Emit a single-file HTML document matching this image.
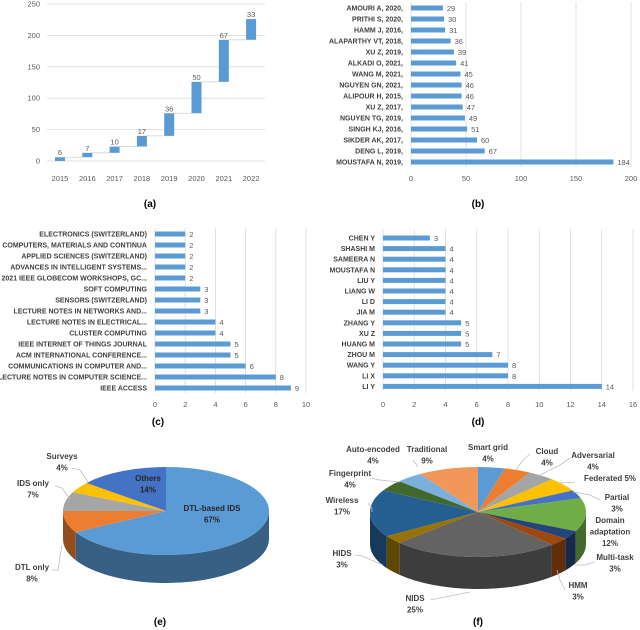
<!DOCTYPE html>
<html><head><meta charset="utf-8">
<style>
html,body{margin:0;padding:0;background:#fff;}
svg{display:block;font-family:"Liberation Sans",sans-serif;}
.tk{font-size:7.5px;fill:#595959;}
.lb{font-size:7px;fill:#404040;font-weight:bold;}
.vl{font-size:7.5px;fill:#595959;}
.pl{font-size:8px;fill:#404040;font-weight:bold;}
.cap{font-size:10px;fill:#000;font-weight:bold;}
</style></head>
<body>
<svg id="fig" width="640" height="630" viewBox="0 0 640 630" xmlns="http://www.w3.org/2000/svg">
<text class="cap" x="150" y="207" text-anchor="middle">(a)</text>
<text class="cap" x="478" y="207" text-anchor="middle">(b)</text>
<text class="cap" x="158" y="425" text-anchor="middle">(c)</text>
<text class="cap" x="478" y="425" text-anchor="middle">(d)</text>
<text class="cap" x="160" y="625" text-anchor="middle">(e)</text>
<text class="cap" x="478" y="625" text-anchor="middle">(f)</text>
</svg>
<script>
const yearCats=["2015","2016","2017","2018","2019","2020","2021","2022"];
const yearVals=[6,7,10,17,36,50,67,33];
const yearTicks=[0,50,100,150,200,250];

const citeCats=["AMOURI A, 2020,","PRITHI S, 2020,","HAMM J, 2016,","ALAPARTHY VT, 2018,","XU Z, 2019,","ALKADI O, 2021,","WANG M, 2021,","NGUYEN GN, 2021,","ALIPOUR H, 2015,","XU Z, 2017,","NGUYEN TG, 2019,","SINGH KJ, 2016,","SIKDER AK, 2017,","DENG L, 2019,","MOUSTAFA N, 2019,"];
const citeVals=[29,30,31,36,39,41,45,46,46,47,49,51,60,67,184];
const citeTicks=[0,50,100,150,200];

const srcCats=["ELECTRONICS (SWITZERLAND)","COMPUTERS, MATERIALS AND CONTINUA","APPLIED SCIENCES (SWITZERLAND)","ADVANCES IN INTELLIGENT SYSTEMS...","2021 IEEE GLOBECOM WORKSHOPS, GC...","SOFT COMPUTING","SENSORS (SWITZERLAND)","LECTURE NOTES IN NETWORKS AND...","LECTURE NOTES IN ELECTRICAL...","CLUSTER COMPUTING","IEEE INTERNET OF THINGS JOURNAL","ACM INTERNATIONAL CONFERENCE...","COMMUNICATIONS IN COMPUTER AND...","LECTURE NOTES IN COMPUTER SCIENCE...","IEEE ACCESS"];
const srcVals=[2,2,2,2,2,3,3,3,4,4,5,5,6,8,9];
const srcTicks=[0,2,4,6,8,10];

const authCats=["CHEN Y","SHASHI M","SAMEERA N","MOUSTAFA N","LIU Y","LIANG W","LI D","JIA M","ZHANG Y","XU Z","HUANG M","ZHOU M","WANG Y","LI X","LI Y"];
const authVals=[3,4,4,4,4,4,4,4,5,5,5,7,8,8,14];
const authTicks=[0,2,4,6,8,10,12,14,16];

const eCats=["DTL-based IDS","DTL only","IDS only","Surveys","Others"];
const eVals=[67,8,7,4,14];
const fCats=["Smart grid","Cloud","Adversarial","Federated","Partial","Domain adaptation","Multi-task","HMM","NIDS","HIDS","Wireless","Fingerprint","Auto-encoded","Traditional"];
const fVals=[4,4,4,5,3,12,3,3,25,3,17,4,4,9];

const NS="http://www.w3.org/2000/svg";
const svg=document.getElementById('fig');
function mk(tag,attrs,txt){const e=document.createElementNS(NS,tag);for(const k in attrs)e.setAttribute(k,attrs[k]);if(txt!==undefined)e.textContent=txt;svg.appendChild(e);return e;}

// ---- (a) waterfall
(function(){
  const y=v=>161-v*157/250, x=i=>60+i*27.3;
  yearTicks.forEach(t=>{
    const g=mk('line',{x1:47,x2:265,y1:y(t),y2:y(t),stroke:'#d9d9d9','stroke-width':0.8});
    
    const l=mk('text',{x:40,y:y(t)+2.5,'text-anchor':'end',class:'tk'},String(t));
    
  });
  let base=0;
  yearVals.forEach((v,i)=>{
    const top=base+v;
    if(i<yearVals.length-1){const c=mk('line',{x1:x(i)+5,x2:x(i+1)-5,y1:y(top),y2:y(top),stroke:'#d0d0d0','stroke-width':0.8});
      }
    const r=mk('rect',{x:x(i)-5,y:y(top),width:10,height:y(base)-y(top),fill:'#5b9bd5'});
    
    const t=mk('text',{x:x(i),y:y(top)-2,'text-anchor':'middle',class:'vl',fill:'#404040'},String(v));
    
    const xl=mk('text',{x:x(i),y:181,'text-anchor':'middle',class:'tk'},yearCats[i]);
    
    base=top;
  });
})();

// ---- horizontal bar helper
function hbar(id,cats,vals,ticks,x0,x1,yTop,step,gTop,gBot,tickY,labX){
  const max=ticks[ticks.length-1];
  const x=v=>x0+v*(x1-x0)/max;
  ticks.forEach(t=>{
    const g=mk('line',{x1:x(t),x2:x(t),y1:gTop,y2:gBot,stroke:'#d9d9d9','stroke-width':0.8});
    
    const l=mk('text',{x:x(t),y:tickY,'text-anchor':'middle',class:'tk'},String(t));
    
  });
  cats.forEach((c,i)=>{
    const yc=yTop+i*step;
    const r=mk('rect',{x:x0,y:yc-2.5,width:x(vals[i])-x0,height:5,fill:'#5b9bd5'});
    
    const l=mk('text',{x:labX,y:yc+2.5,'text-anchor':'end',class:'lb'},c);
    
    const v=mk('text',{x:x(vals[i])+4,y:yc+3,class:'vl'},String(vals[i]));
    
  });
}
hbar('b',citeCats,citeVals,citeTicks,411,631,8,11,2,167,181,403);
hbar('c',srcCats,srcVals,srcTicks,155,306,234,11,228,393,407,147);
hbar('d',authCats,authVals,authTicks,383,633,238,10.6,229,391,407,375);

// ---- 3D pies
const eCols=['#5b9bd5','#ed7d31','#a5a5a5','#ffc000','#4472c4'];
const fCols=['#5b9bd5','#ed7d31','#a5a5a5','#ffc000','#4472c4','#70ad47','#264478','#9e480e','#636363','#997300','#255e91','#43682b','#7cafdd','#f1975a'];
function shade(h,f){const n=parseInt(h.slice(1),16);const r=Math.round(((n>>16)&255)*f),g=Math.round(((n>>8)&255)*f),b=Math.round((n&255)*f);return 'rgb('+r+','+g+','+b+')';}
function pie(id,vals,cols,cx,cy,rx,ry,d){
  const tot=vals.reduce((a,b)=>a+b,0);
  const P=(a,dy)=>[(cx+rx*Math.cos(a)).toFixed(2),(cy+ry*Math.sin(a)+(dy||0)).toFixed(2)];
  let a=-Math.PI/2;const segs=[];
  vals.forEach((v,i)=>{const a1=a+v/tot*2*Math.PI;segs.push([a,a1,i]);a=a1;});
  segs.forEach(([a0,a1,i])=>{
    [[0,Math.PI],[2*Math.PI,3*Math.PI]].forEach(([lo,hi])=>{
      const s=Math.max(a0,lo),e=Math.min(a1,hi);
      if(e<=s)return;
      const p0=P(s),p1=P(e),q1=P(e,d),q0=P(s,d);
      const path=`M${p0} A${rx},${ry} 0 0 1 ${p1} L${q1} A${rx},${ry} 0 0 0 ${q0} Z`;
      const el=mk('path',{d:path,fill:shade(cols[i],0.62)});
      
    });
  });
  segs.forEach(([a0,a1,i])=>{
    const large=(a1-a0)>Math.PI?1:0;
    const path=`M${cx},${cy} L${P(a0)} A${rx},${ry} 0 ${large} 1 ${P(a1)} Z`;
    const el=mk('path',{d:path,fill:cols[i]});
    
  });
}
pie('e',eVals,eCols,166,511,103,44,28);
pie('f',fVals,fCols,478,512,108,45,32);

function lab(x,y,lines,name,anchor,fill){
  lines.forEach((t,k)=>{const el=mk('text',{x:x,y:y+k*11.5,'text-anchor':anchor||'middle',class:'pl'},t);
    if(fill)el.setAttribute('style','fill:'+fill);
    });
}
function lead(pts){const el=mk('polyline',{points:pts,fill:'none',stroke:'#bfbfbf','stroke-width':0.8});
  }
lab(212,511,['DTL-based IDS',eVals[0]+'%'],'label-dtl-ids','middle','#262626');
lab(148,481,['Others',eVals[4]+'%'],'label-others','middle','#262626');
lab(62,459,['Surveys',eVals[3]+'%'],'label-surveys');
lab(33,486,['IDS only',eVals[2]+'%'],'label-ids-only');
lab(32,570,['DTL only',eVals[1]+'%'],'label-dtl-only');
lead('72,468 80,470 88,482');lead('55,486 62,488 70,499');lead('52,570 58,570 62,545');
lab(488,450,['Smart grid','4%'],'label-smart-grid');
lab(547,454,['Cloud','4%'],'label-cloud');
lab(593,458,['Adversarial','4%'],'label-adversarial');
lab(610,481,['Federated 5%'],'label-federated');
lab(617,500,['Partial','3%'],'label-partial');
lab(610,523,['Domain','adaptation','12%'],'label-domain-adaptation');
lab(615,560,['Multi-task','3%'],'label-multi-task');
lab(578,588,['HMM','3%'],'label-hmm');
lab(415,601,['NIDS','25%'],'label-nids');
lab(342,556,['HIDS','3%'],'label-hids');
lab(342,503,['Wireless','17%'],'label-wireless');
lab(350,476,['Fingerprint','4%'],'label-fingerprint');
lab(373,452,['Auto-encoded','4%'],'label-auto-encoded');
lab(427,452,['Traditional','9%'],'label-traditional');
lead('530,454 523,460 516,470');lead('570,458 560,465 538,476');lead('575,482 560,483');
lead('600,500 590,495 573,492');lead('595,562 585,565 575,565');lead('565,590 560,580 557,570');
lead('430,600 445,597 470,592');lead('355,555 362,556 383,565');lead('368,503 372,508 372,512');
lead('370,478 380,480 400,482');lead('413,460 418,467');
</script>
</body></html>
